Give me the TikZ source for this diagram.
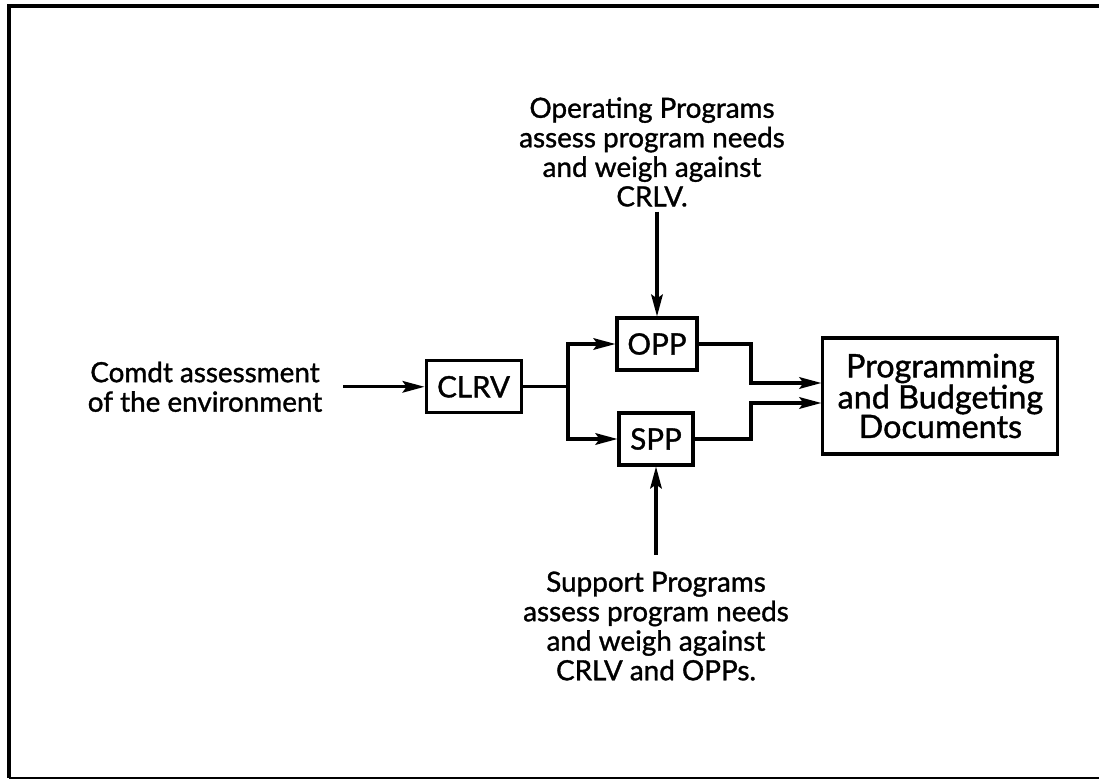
\documentclass[tikz,border=0pt]{standalone}
\usepackage{fontspec}
\setmainfont{Lato}[FakeBold=1.2]
\usetikzlibrary{positioning, arrows.meta}

\begin{document}
\begin{tikzpicture}[
    box/.style={draw, line width=2.2pt, minimum height=1.3cm, inner sep=0pt, font=\fontsize{21}{24}\selectfont},
    link/.style={line width=2.2pt},
    flow/.style={link, -{Stealth[length=5.5mm, width=2.9mm, inset=1mm]}},
    note/.style={align=center, font=\fontsize{19.8}{21}\selectfont}
]
    \useasboundingbox (0,0) rectangle (27.475,19.5);
    % frame, open on the right
    \draw[line width=3.2pt] (27.475,19.35) -- (0.225,19.35) -- (0.225,0.05);
    \draw[line width=1pt] (0.225,0.05) -- (27.475,0.05);

    \node[box, minimum width=2.375cm] (clrv) at (11.84,9.83) {CLRV};
    \node[box, minimum width=2.0cm] (opp) at (16.425,10.9) {OPP};
    \node[box, minimum width=1.85cm] (spp) at (16.4,8.525) {SPP};
    \node[box, minimum width=5.875cm, minimum height=2.9cm, align=center,
          font=\fontsize{23}{21}\selectfont] (docs) at (23.51,9.6)
          {Programming\\and Budgeting\\Documents};

    \node[note] (comdt) at (5.125,9.83) {Comdt assessment\\of the environment};
    \node[note] (oprog) at (16.3,15.7) {Operating Programs\\assess program needs\\and weigh against\\CRLV.};
    \node[note] (sprog) at (16.4,3.85) {Support Programs\\assess program needs\\and weigh against\\CRLV and OPPs.};

    \coordinate (split) at (14.2,9.83);
    \coordinate (mtop) at (18.775,9.925);
    \coordinate (mbot) at (18.775,9.425);

    \draw[flow] ([xshift=4mm]comdt.east) -- (clrv);
    \draw[link] (clrv) -- (split);
    \draw[flow] (split) |- (opp.west);
    \draw[flow] (split) |- (spp.west);
    \draw[flow] (opp) -| (mtop) -- (mtop -| docs.west);
    \draw[flow] (spp) -| (mbot) -- (mbot -| docs.west);
    \draw[flow] (oprog.south -| opp) -- (opp);
    \draw[flow] ([yshift=3mm]sprog.north -| spp) -- (spp);
\end{tikzpicture}
\end{document}
